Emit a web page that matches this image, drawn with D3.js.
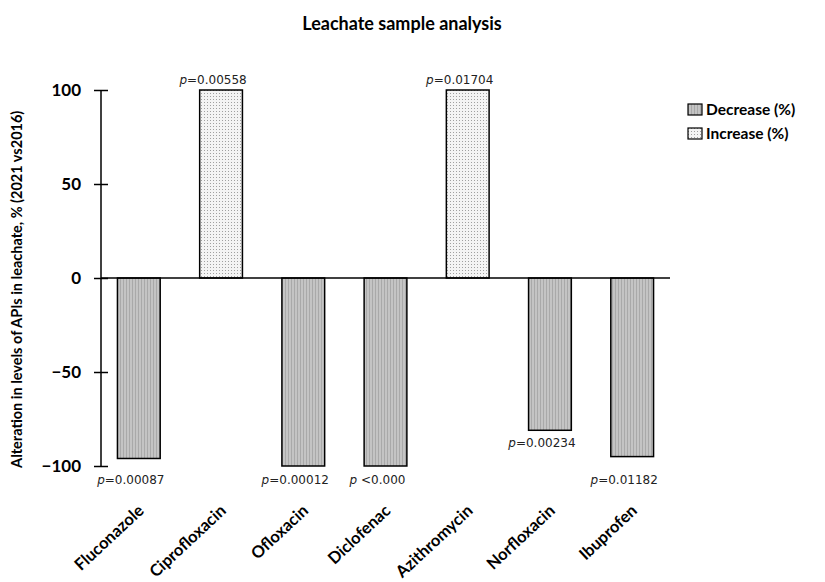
<!DOCTYPE html>
<meta charset="utf-8">
<script src="https://d3js.org/d3.v7.min.js"></script>
<style>
body { margin: 0; background: #fff; }
text { font-family: Lato, "Open Sans", sans-serif; }
.axis path, .axis line { stroke: #000; stroke-width: 1.5px; }
.axis text { font-family: Lato, sans-serif; font-weight: bold; font-size: 17px; fill: #000; }
.pval { font-family: "DejaVu Sans", sans-serif; font-size: 12px; fill: #222; }
</style>
<body>
<script>
// data
var drugs = ["Fluconazole", "Ciprofloxacin", "Ofloxacin", "Diclofenac", "Azithromycin", "Norfloxacin", "Ibuprofen"];
var change = [-96, 100, -100, -100, 100, -81, -95];
var pvals = ["=0.00087", "=0.00558", "=0.00012", " <0.000", "=0.01704", "=0.00234", "=0.01182"];
var yTicks = [-100, -50, 0, 50, 100];
var series = ["Decrease (%)", "Increase (%)"];

var width = 825, height = 582;
var margin = {top: 90, left: 101, right: 155, bottom: 116};

var svg = d3.select("body").append("svg")
    .attr("width", width)
    .attr("height", height);

// fill patterns
var defs = svg.append("defs");
var dec = defs.append("pattern").attr("id", "dec")
    .attr("patternUnits", "userSpaceOnUse").attr("width", 3).attr("height", 3);
dec.append("rect").attr("width", 3).attr("height", 3).attr("fill", "#c4c4c4");
dec.append("rect").attr("width", 1).attr("height", 3).attr("fill", "#a9a9a9");
var inc = defs.append("pattern").attr("id", "inc")
    .attr("patternUnits", "userSpaceOnUse").attr("width", 3).attr("height", 3);
inc.append("rect").attr("width", 3).attr("height", 3).attr("fill", "#f4f4f4");
inc.append("rect").attr("width", 1).attr("height", 1).attr("fill", "#a0a0a0");

var x = d3.scaleBand().domain(drugs)
    .range([margin.left, 670]).paddingInner(0.48).paddingOuter(0.2);
var y = d3.scaleLinear().domain([-100, 100])
    .range([466, margin.top]);

var data = drugs.map(function(d, i) {
    return {name: d, value: change[i], p: pvals[i]};
});

// title
svg.append("text")
    .attr("x", 402).attr("y", 30)
    .attr("text-anchor", "middle")
    .style("font-weight", "bold").style("font-size", "18px")
    .text("Leachate sample analysis");

// y axis
var yAxis = svg.append("g").attr("class", "axis")
    .attr("transform", "translate(" + margin.left + ",0)")
    .call(d3.axisLeft(y).tickValues(yTicks).tickSize(0));
yAxis.select(".domain").remove();
yAxis.append("line").attr("x1", 0).attr("x2", 0).attr("y1", y(100)).attr("y2", y(-100))
    .attr("stroke", "#000").attr("stroke-width", 1.5);
yAxis.selectAll(".tick").append("line")
    .attr("x1", -7).attr("x2", 7).attr("stroke", "#000").attr("stroke-width", 1.5);
yAxis.selectAll(".tick text").attr("x", -20);

svg.append("text")
    .attr("transform", "translate(22," + y(-6) + ") rotate(-90)")
    .attr("text-anchor", "middle")
    .style("font-weight", "bold").style("font-size", "14.5px")
    .text("Alteration in levels of APIs in leachate, % (2021 vs2016)");

// bars
svg.selectAll(".bar").data(data).enter().append("rect")
    .attr("class", "bar")
    .attr("x", function(d) { return x(d.name); })
    .attr("width", x.bandwidth())
    .attr("y", function(d) { return y(Math.max(0, d.value)); })
    .attr("height", function(d) { return Math.abs(y(d.value) - y(0)); })
    .attr("fill", function(d) { return d.value < 0 ? "url(#dec)" : "url(#inc)"; })
    .attr("stroke", "#000").attr("stroke-width", 1.5);

// zero line
svg.append("line")
    .attr("x1", margin.left).attr("x2", 670)
    .attr("y1", y(0)).attr("y2", y(0))
    .attr("stroke", "#000").attr("stroke-width", 1.5);

// p-values
var pl = svg.selectAll(".pval").data(data).enter().append("text")
    .attr("class", "pval")
    .attr("text-anchor", "middle")
    .attr("x", function(d) { return x(d.name) + x.bandwidth() / 2 - 8; })
    .attr("y", function(d) {
        if (d.value > 0) return y(d.value) - 6;
        if (d.value < -90) return y(-100) + 18;
        return y(d.value) + 17;
    });
pl.append("tspan").style("font-style", "italic").text("p");
pl.append("tspan").text(function(d) { return d.p; });

// x labels
svg.selectAll(".xlab").data(data).enter().append("text")
    .attr("class", "xlab")
    .attr("text-anchor", "end")
    .attr("transform", function(d) {
        return "translate(" + (x(d.name) + x.bandwidth() / 2 + 6) + ",512) rotate(-43)";
    })
    .style("font-weight", "bold").style("font-size", "16.5px")
    .text(function(d) { return d.name; });

// legend
var lg = svg.selectAll(".legend").data(series).enter().append("g")
    .attr("class", "legend")
    .attr("transform", function(d, i) { return "translate(688," + (104 + i * 24) + ")"; });
lg.append("rect").attr("width", 14).attr("height", 11)
    .attr("fill", function(d, i) { return i == 0 ? "url(#dec)" : "url(#inc)"; })
    .attr("stroke", "#000").attr("stroke-width", 1.2);
lg.append("text").attr("x", 18).attr("y", 11)
    .style("font-weight", "bold").style("font-size", "15.5px")
    .text(String);
</script>
</body>
